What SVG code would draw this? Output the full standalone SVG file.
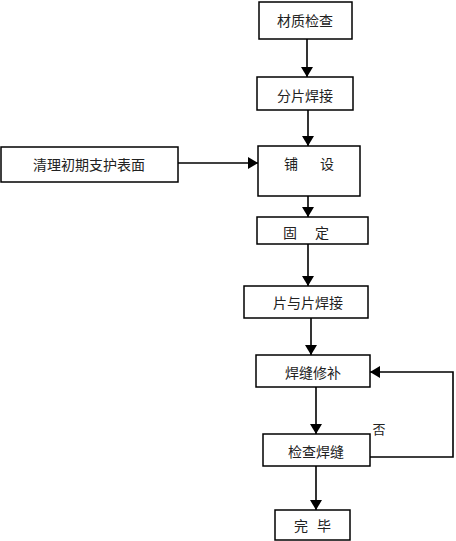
<svg xmlns="http://www.w3.org/2000/svg" width="456" height="541" viewBox="0 0 456 541">
<style>
.box{fill:#fff;stroke:#000;stroke-width:1.5}
.t{font-family:"Noto Sans CJK SC","Noto Sans",sans-serif;font-size:14px;fill:#222;text-anchor:middle;dominant-baseline:central}
.c{fill:none;stroke:#000;stroke-width:1.6}
</style>
<defs>
<marker id="ah" markerWidth="10" markerHeight="12" refX="10" refY="6" orient="auto" markerUnits="userSpaceOnUse">
<path d="M0,0 L10,6 L0,12 Z" fill="#000"/>
</marker>
</defs>
<rect width="456" height="541" fill="#fff"/>
<g id="connectors">
<line class="c" x1="307" y1="39" x2="307" y2="77" marker-end="url(#ah)"/>
<line class="c" x1="308" y1="110" x2="308" y2="146" marker-end="url(#ah)"/>
<line class="c" x1="178" y1="163" x2="258" y2="163" marker-end="url(#ah)"/>
<line class="c" x1="308" y1="196" x2="308" y2="217" marker-end="url(#ah)"/>
<line class="c" x1="308" y1="244" x2="308" y2="286" marker-end="url(#ah)"/>
<line class="c" x1="311" y1="318" x2="311" y2="355" marker-end="url(#ah)"/>
<line class="c" x1="316" y1="387" x2="316" y2="434" marker-end="url(#ah)"/>
<polyline class="c" points="370,457 453,457 453,372 370,372" marker-end="url(#ah)"/>
<line class="c" x1="316" y1="466" x2="316" y2="510" marker-end="url(#ah)"/>
<text class="t" x="379" y="428" style="font-size:13px">否</text>
</g>
<g id="n1"><rect class="box" x="259" y="2" width="93" height="37"/><text class="t" x="305" y="20">材质检查</text></g>
<g id="n2"><rect class="box" x="257" y="77" width="96" height="33"/><text class="t" x="305" y="95">分片焊接</text></g>
<g id="n0"><rect class="box" x="1" y="147" width="177" height="35"/><text class="t" x="89" y="164">清理初期支护表面</text></g>
<g id="n3"><rect class="box" x="258" y="146" width="102" height="50"/><text class="t" x="291" y="163">铺</text><text class="t" x="327" y="163">设</text></g>
<g id="n4"><rect class="box" x="257" y="217" width="111" height="27"/><text class="t" x="290" y="232">固</text><text class="t" x="322" y="232">定</text></g>
<g id="n5"><rect class="box" x="244" y="286" width="124" height="32"/><text class="t" x="308" y="302">片与片焊接</text></g>
<g id="n6"><rect class="box" x="256" y="355" width="114" height="32"/><text class="t" x="313" y="372">焊缝修补</text></g>
<g id="n7"><rect class="box" x="263" y="434" width="107" height="32"/><text class="t" x="316" y="451">检查焊缝</text></g>
<g id="n8"><rect class="box" x="275" y="510" width="75" height="30"/><text class="t" x="301" y="525">完</text><text class="t" x="324" y="525">毕</text></g>
</svg>
